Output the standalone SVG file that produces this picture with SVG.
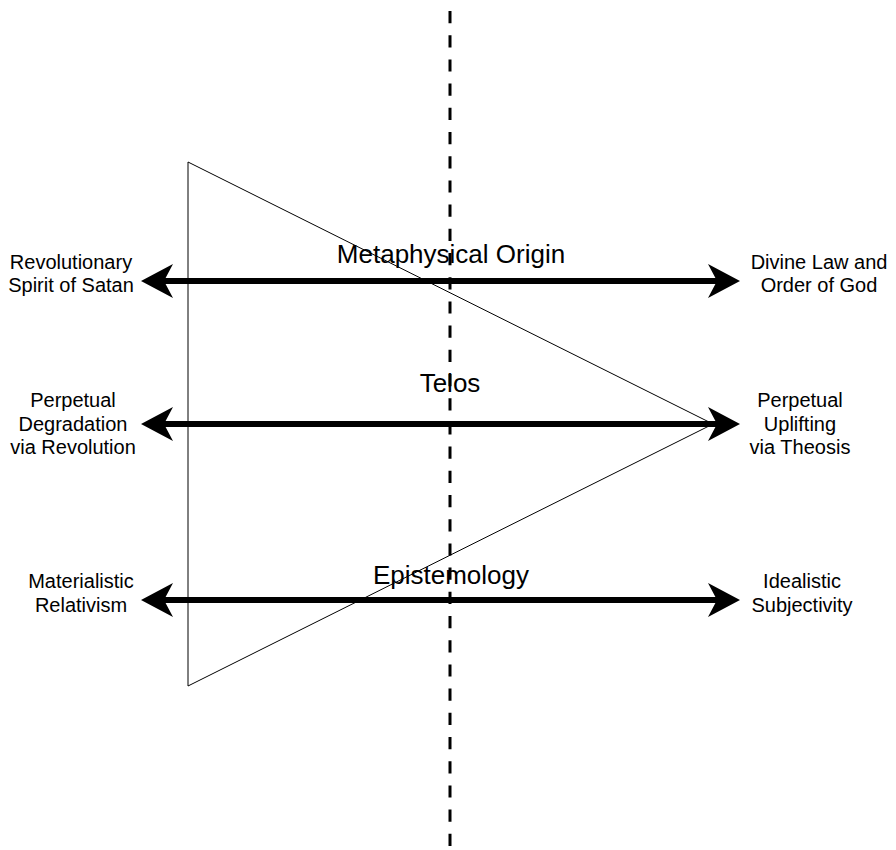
<svg xmlns="http://www.w3.org/2000/svg" width="896" height="850" viewBox="0 0 896 850">
<style>
.lbl{font-family:"Liberation Sans",Arial,sans-serif;font-size:20px;fill:#000;text-anchor:middle}
.ttl{font-family:"Liberation Sans",Arial,sans-serif;font-size:26px;fill:#000;text-anchor:middle}
.arr{stroke:#000;stroke-width:6;fill:none}
</style>
<defs>
<marker id="ah" viewBox="0 0 32 34" refX="9" refY="17" markerWidth="32" markerHeight="34" markerUnits="userSpaceOnUse" orient="auto-start-reverse">
<path d="M0,0 L32,17 L0,34 L9,17 Z" fill="#000"/>
</marker>
</defs>
<rect width="896" height="850" fill="#fff"/>
<g id="triangle">
<path d="M188,162 L713,424 L188,686 Z" fill="none" stroke="#000" stroke-width="1"/>
</g>
<g id="divider">
<line x1="450" y1="11" x2="450" y2="847" stroke="#000" stroke-width="3" stroke-dasharray="12.2,12"/>
</g>
<g id="connectors">
<line class="arr" x1="164" y1="281" x2="717" y2="281" marker-start="url(#ah)" marker-end="url(#ah)"/>
<line class="arr" x1="164" y1="424" x2="717" y2="424" marker-start="url(#ah)" marker-end="url(#ah)"/>
<line class="arr" x1="164" y1="600" x2="717" y2="600" marker-start="url(#ah)" marker-end="url(#ah)"/>
</g>
<g id="title-metaphysical"><text class="ttl" x="451" y="263">Metaphysical Origin</text></g>
<g id="title-telos"><text class="ttl" x="450" y="392">Telos</text></g>
<g id="title-epistemology"><text class="ttl" x="451" y="584">Epistemology</text></g>
<g id="left-1"><text class="lbl" x="71" y="269">Revolutionary</text><text class="lbl" x="71" y="292">Spirit of Satan</text></g>
<g id="right-1"><text class="lbl" x="819" y="269">Divine Law and</text><text class="lbl" x="819" y="292">Order of God</text></g>
<g id="left-2"><text class="lbl" x="73" y="407">Perpetual</text><text class="lbl" x="73" y="431">Degradation</text><text class="lbl" x="73" y="454">via Revolution</text></g>
<g id="right-2"><text class="lbl" x="800" y="407">Perpetual</text><text class="lbl" x="800" y="431">Uplifting </text><text class="lbl" x="800" y="454">via Theosis</text></g>
<g id="left-3"><text class="lbl" x="81" y="588">Materialistic</text><text class="lbl" x="81" y="612">Relativism</text></g>
<g id="right-3"><text class="lbl" x="802" y="588">Idealistic</text><text class="lbl" x="802" y="612">Subjectivity</text></g>
</svg>
